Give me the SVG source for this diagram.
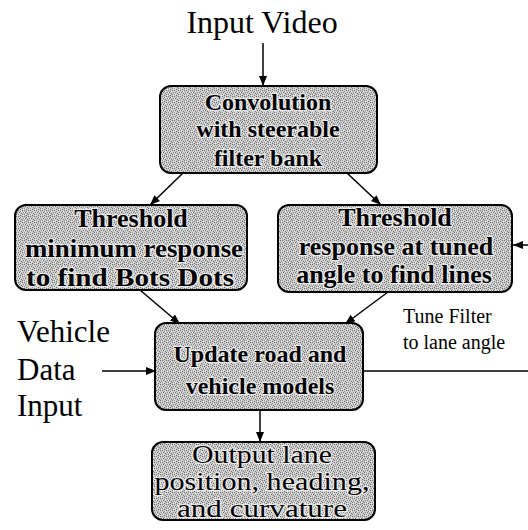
<svg xmlns="http://www.w3.org/2000/svg" width="528" height="530" viewBox="0 0 528 530">
<style>
.box{fill:url(#dither);stroke:#000;stroke-width:2}
.bt{font-family:"Liberation Serif","Times New Roman",serif;font-weight:bold;text-anchor:middle;fill:#000;stroke:#fff;stroke-width:2.5;stroke-opacity:0.7;paint-order:stroke;stroke-linejoin:round}
.rt{font-weight:normal}
.lab{font-family:"Liberation Serif","Times New Roman",serif;fill:#000}
.con{stroke:#000;stroke-width:1.5;fill:none}
</style>
<defs>
<pattern id="dither" width="6" height="6" patternUnits="userSpaceOnUse">
<rect width="6" height="6" fill="#cbcbcb"/>
<rect x="0" y="0" width="1" height="1" fill="#777"/>
<rect x="2" y="1" width="1" height="1" fill="#888"/>
<rect x="4" y="0" width="1" height="1" fill="#666"/>
<rect x="1" y="2" width="1" height="1" fill="#6a6a6a"/>
<rect x="3" y="3" width="1" height="1" fill="#777"/>
<rect x="5" y="2" width="1" height="1" fill="#888"/>
<rect x="0" y="4" width="1" height="1" fill="#888"/>
<rect x="2" y="5" width="1" height="1" fill="#666"/>
<rect x="4" y="4" width="1" height="1" fill="#777"/>
<rect x="5" y="5" width="1" height="1" fill="#f4f4f4"/>
<rect x="1" y="4" width="1" height="1" fill="#f4f4f4"/>
<rect x="3" y="1" width="1" height="1" fill="#f7f7f7"/>
<rect x="0" y="2" width="1" height="1" fill="#eee"/>
</pattern>
<marker id="ah" viewBox="0 0 10 10" refX="10" refY="5" markerWidth="10" markerHeight="10" markerUnits="userSpaceOnUse" orient="auto">
<path d="M0,1 L10,5 L0,9 z" fill="#000"/>
</marker>
</defs>

<text class="lab" x="262" y="33" font-size="32" text-anchor="middle">Input Video</text>
<text class="lab" x="17" y="342" font-size="31">Vehicle</text>
<text class="lab" x="17" y="380" font-size="31">Data</text>
<text class="lab" x="17" y="416" font-size="31">Input</text>
<text class="lab" x="403" y="323" font-size="20">Tune Filter</text>
<text class="lab" x="403" y="349" font-size="20">to lane angle</text>

<g id="connectors">
<line class="con" x1="263" y1="43" x2="263" y2="86" marker-end="url(#ah)"/>
<line class="con" x1="183" y1="173" x2="150" y2="205" marker-end="url(#ah)"/>
<line class="con" x1="347" y1="173" x2="381" y2="205" marker-end="url(#ah)"/>
<line class="con" x1="140" y1="290" x2="180" y2="324" marker-end="url(#ah)"/>
<line class="con" x1="388" y1="292" x2="345" y2="324" marker-end="url(#ah)"/>
<line class="con" x1="102" y1="371" x2="156" y2="371" marker-end="url(#ah)"/>
<line class="con" x1="363" y1="371" x2="528" y2="371"/>
<line class="con" x1="528" y1="245" x2="513" y2="245" marker-end="url(#ah)"/>
<line class="con" x1="260" y1="410" x2="260" y2="442" marker-end="url(#ah)"/>
</g>

<g id="conv">
<rect class="box" x="160" y="86" width="217" height="87" rx="11"/>
<text class="bt" x="268" y="110" font-size="24">Convolution</text>
<text class="bt" x="268" y="137" font-size="24">with steerable</text>
<text class="bt" x="268" y="166" font-size="24">filter bank</text>
</g>

<g id="thresh-dots">
<rect class="box" x="15" y="205" width="232" height="85" rx="11"/>
<text class="bt" x="131" y="227" font-size="26">Threshold</text>
<text class="bt" x="134" y="257" font-size="26" textLength="218" lengthAdjust="spacingAndGlyphs">minimum response</text>
<text class="bt" x="130" y="286" font-size="26" textLength="208" lengthAdjust="spacingAndGlyphs">to find Bots Dots</text>
</g>

<g id="thresh-lines">
<rect class="box" x="278" y="205" width="234" height="87" rx="11"/>
<text class="bt" x="395" y="226" font-size="26">Threshold</text>
<text class="bt" x="396" y="255" font-size="26">response at tuned</text>
<text class="bt" x="394" y="283" font-size="26">angle to find lines</text>
</g>

<g id="update">
<rect class="box" x="155" y="323" width="208" height="87" rx="11"/>
<text class="bt" x="260" y="362" font-size="24">Update road and</text>
<text class="bt" x="260" y="394" font-size="24">vehicle models</text>
</g>

<g id="output">
<rect class="box" x="152" y="442" width="223" height="78" rx="11"/>
<text class="bt rt" x="262" y="463" font-size="26" textLength="140" lengthAdjust="spacingAndGlyphs">Output lane</text>
<text class="bt rt" x="262" y="490" font-size="26" textLength="215" lengthAdjust="spacingAndGlyphs">position, heading,</text>
<text class="bt rt" x="262" y="517" font-size="26" textLength="170" lengthAdjust="spacingAndGlyphs">and curvature</text>
</g>
</svg>
